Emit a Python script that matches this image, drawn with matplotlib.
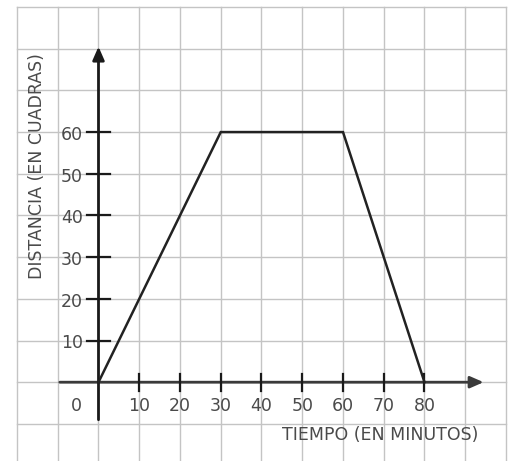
import matplotlib
matplotlib.use("Agg")
import matplotlib.pyplot as plt
import numpy as np

# Data
tiempo = [0, 30, 60, 80]          # minutes
distancia = [0, 60, 60, 0]        # cuadras
x_ticks = [10, 20, 30, 40, 50, 60, 70, 80]
y_ticks = [10, 20, 30, 40, 50, 60]
x_label = "TIEMPO (EN MINUTOS)"
y_label = "DISTANCIA (EN CUADRAS)"

W, H = 514, 461
fig = plt.figure(figsize=(W / 100, H / 100), dpi=100)
ax = fig.add_axes([17 / W, 0, (506 - 17) / W, 1 - 7 / H])
ax.set_xlim(-20, 100)
ax.set_ylim(-18.9, 90)
ax.axis("off")

grid_col = "#c4c4c4"
for gx in range(-20, 101, 10):
    ax.axvline(gx, color=grid_col, lw=1.0, zorder=0, clip_on=False)
for gy in range(-10, 91, 10):
    ax.axhline(gy, color=grid_col, lw=1.0, zorder=0, clip_on=False)

ax_col = "#1a1a1a"
# axes with arrows
ax.annotate("", xy=(94.5, 0), xytext=(-9.5, 0),
            arrowprops=dict(arrowstyle="-|>,head_length=0.8,head_width=0.35",
                            lw=2, color="#3a3a3a", shrinkA=0, shrinkB=0), zorder=3)
ax.annotate("", xy=(0, 80.5), xytext=(0, -9),
            arrowprops=dict(arrowstyle="-|>,head_length=0.8,head_width=0.35",
                            lw=2, color=ax_col, shrinkA=0, shrinkB=0), zorder=3)

# ticks
for t in x_ticks:
    ax.plot([t, t], [-2, 2], color=ax_col, lw=1.6, zorder=3)
for t in y_ticks:
    ax.plot([-2.7, 2.7], [t, t], color=ax_col, lw=1.6, zorder=3)

txt_col = "#4a4a4a"
fs = 12.5
for t in x_ticks:
    ax.text(t, -5.6, str(t), ha="center", va="center", fontsize=fs, color=txt_col)
ax.text(-5.5, -5.6, "0", ha="center", va="center", fontsize=fs, color=txt_col)
for t in y_ticks:
    ax.text(-6.5, t - 0.7, str(t), ha="center", va="center", fontsize=fs, color=txt_col)

ax.text(69.1, -12.7, x_label, ha="center", va="center", fontsize=12.5, color=txt_col)
ax.text(-15.1, 51.8, y_label, ha="center", va="center", fontsize=12.5,
        color=txt_col, rotation=90)

# data line
ax.plot(tiempo, distancia, color="#222222", lw=1.8, zorder=4, solid_joinstyle="miter")

fig.savefig("out.png", dpi=100)
